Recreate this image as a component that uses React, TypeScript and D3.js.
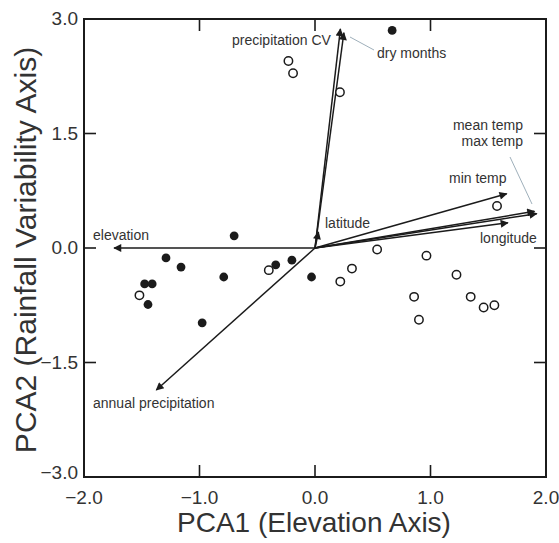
import React from "react";
import * as d3 from "d3";

// ---- data ----
const filledX = [-0.70, -1.29, -1.16, -0.79, -1.475, -1.41, -1.446, -0.977, -0.34, -0.20, -0.03, 0.668];
const filledY = [0.16, -0.13, -0.25, -0.38, -0.47, -0.47, -0.74, -0.98, -0.22, -0.16, -0.38, 2.85];

const openX = [-1.52, -0.40, -0.23, -0.19, 0.216, 1.576, 0.538, 0.965, 0.32, 0.219, 1.225, 0.858, 1.348, 1.46, 1.553, 0.90];
const openY = [-0.62, -0.29, 2.45, 2.29, 2.04, 0.55, -0.02, -0.10, -0.27, -0.44, -0.35, -0.64, -0.64, -0.78, -0.75, -0.94];

const vectorNames = ["elevation", "annual precipitation", "precipitation CV", "dry months", "latitude", "min temp", "mean temp", "max temp", "longitude"];
const vectorX = [-1.74, -1.374, 0.22, 0.25, 0.03, 1.66, 1.90, 1.92, 1.67];
const vectorY = [0.0, -1.86, 2.87, 2.82, 0.21, 0.71, 0.48, 0.45, 0.33];

const xTicks = [-2.0, -1.0, 0.0, 1.0, 2.0];
const yTicks = [-3.0, -1.5, 0.0, 1.5, 3.0];
const xTitle = "PCA1 (Elevation Axis)";
const yTitle = "PCA2 (Rainfall Variability Axis)";

// ---- layout (pixels) ----
const W = 559, H = 543;
const L = 84, R = 546, T = 19, B = 477;

const labelLayout: { text: string; x: number; y: number; anchor: string }[] = [
  { text: "precipitation CV", x: 232, y: 45, anchor: "start" },
  { text: "dry months", x: 377, y: 58, anchor: "start" },
  { text: "mean temp", x: 523, y: 130, anchor: "end" },
  { text: "max temp", x: 523, y: 146, anchor: "end" },
  { text: "min temp", x: 449, y: 183, anchor: "start" },
  { text: "latitude", x: 325, y: 228, anchor: "start" },
  { text: "longitude", x: 480, y: 243, anchor: "start" },
  { text: "elevation", x: 93, y: 240, anchor: "start" },
  { text: "annual precipitation", x: 93, y: 408, anchor: "start" },
];

const leaders = [
  [350, 37, 374, 50],
  [510, 157, 532, 204],
];

export default function App() {
  const x = d3.scaleLinear().domain([-2, 2]).range([L, R]);
  const y = d3.scaleLinear().domain([-3, 3]).range([B, T]);
  const font = "'Liberation Sans', Arial, sans-serif";
  const lineCol = "#1b1b1b";
  const textCol = "#333";
  const tickLen = 12;

  return (
    <svg width={W} height={H} style={{ position: "absolute", left: 0, top: 0, background: "#fff" }} fontFamily={font}>
      <defs>
        <marker id="ah" viewBox="0 0 10 10" refX="9" refY="5" markerWidth="11" markerHeight="8" markerUnits="userSpaceOnUse" orient="auto">
          <path d="M0,0 L10,5 L0,10 z" fill={lineCol} />
        </marker>
      </defs>
      {/* frame */}
      <rect x={L} y={T} width={R - L} height={B - T} fill="none" stroke={lineCol} strokeWidth={2} />
      {/* ticks */}
      {xTicks.slice(1, -1).map((t) => (
        <g key={"xt" + t}>
          <line x1={x(t)} x2={x(t)} y1={B} y2={B - tickLen} stroke={lineCol} strokeWidth={1.6} />
          <line x1={x(t)} x2={x(t)} y1={T} y2={T + tickLen} stroke={lineCol} strokeWidth={1.6} />
        </g>
      ))}
      {yTicks.slice(1, -1).map((t) => (
        <g key={"yt" + t}>
          <line x1={L} x2={L + tickLen} y1={y(t)} y2={y(t)} stroke={lineCol} strokeWidth={1.6} />
          <line x1={R} x2={R - tickLen} y1={y(t)} y2={y(t)} stroke={lineCol} strokeWidth={1.6} />
        </g>
      ))}
      {/* tick labels */}
      {xTicks.map((t) => (
        <text key={"xl" + t} x={x(t)} y={504} textAnchor="middle" fontSize={19} fill={textCol}>
          {d3.format(".1f")(t)}
        </text>
      ))}
      {yTicks.map((t) => (
        <text key={"yl" + t} x={78} y={y(t) + (t === -3 ? 2 : 6)} textAnchor="end" fontSize={19} fill={textCol}>
          {d3.format(".1f")(t)}
        </text>
      ))}
      {/* axis titles */}
      <text x={(L + R) / 2 - 1} y={532} textAnchor="middle" fontSize={28} fill={textCol}>
        {xTitle}
      </text>
      <text transform={`translate(36,${(T + B) / 2 + 2}) rotate(-90)`} textAnchor="middle" fontSize={30} fill={textCol}>
        {yTitle}
      </text>
      {/* vectors */}
      {vectorNames.map((n, i) => (
        <line key={n} x1={x(0)} y1={y(0)} x2={x(vectorX[i])} y2={y(vectorY[i])} stroke={lineCol} strokeWidth={1.5} markerEnd="url(#ah)" />
      ))}
      {/* leader lines */}
      {leaders.map((l, i) => (
        <line key={"ld" + i} x1={l[0]} y1={l[1]} x2={l[2]} y2={l[3]} stroke="#9fb0bb" strokeWidth={1} />
      ))}
      {/* labels */}
      {labelLayout.map((lb) => (
        <text key={lb.text} x={lb.x} y={lb.y} textAnchor={lb.anchor as any} fontSize={14} fill={textCol}>
          {lb.text}
        </text>
      ))}
      {/* points */}
      {openX.map((v, i) => (
        <circle key={"o" + i} cx={x(v)} cy={y(openY[i])} r={4.2} fill="#fff" stroke={lineCol} strokeWidth={1.5} />
      ))}
      {filledX.map((v, i) => (
        <circle key={"f" + i} cx={x(v)} cy={y(filledY[i])} r={4.4} fill={lineCol} />
      ))}
    </svg>
  );
}
